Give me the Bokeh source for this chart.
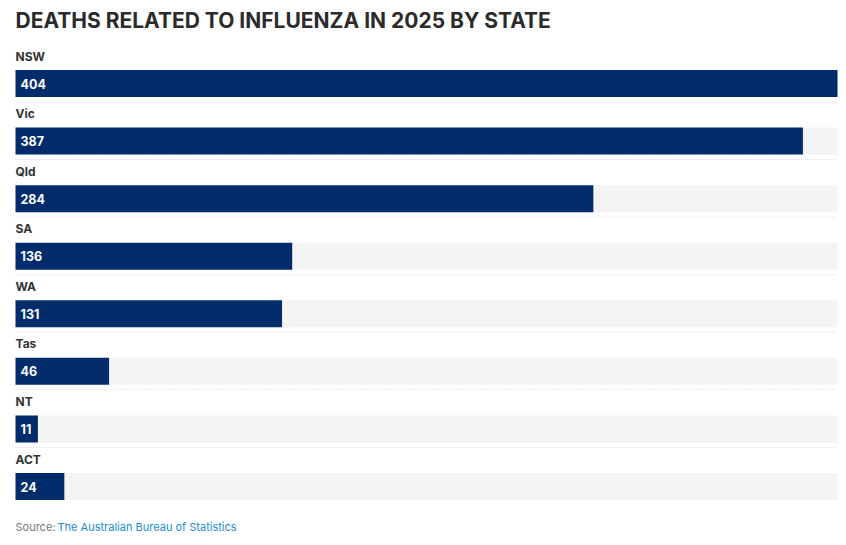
from bokeh.plotting import figure
from bokeh.models import Range1d, ColumnDataSource
from bokeh.core.properties import value
from bokeh.embed import file_html
from bokeh.resources import INLINE

# ---- data ----
states = ["NSW", "Vic", "Qld", "SA", "WA", "Tas", "NT", "ACT"]
deaths = [404, 387, 284, 136, 131, 46, 11, 24]
title_text = "DEATHS RELATED TO INFLUENZA IN 2025 BY STATE"
source_label = "Source:"
source_link = "The Australian Bureau of Statistics"

# ---- layout (page pixels) ----
W, H = 840, 540
PAGE = 0
bar_left_px, bar_right_px = 15, 837
max_val = max(deaths)
scale = (bar_right_px - bar_left_px) / max_val        # px per death
x0 = -(bar_left_px - PAGE) / scale
x1 = max_val + (PAGE + W - bar_right_px) / scale

first_bar_top = 69.5
row_step = (473 - 70) / 7
bar_h = 27

p = figure(width=W, height=H, output_backend="svg", toolbar_location=None,
           x_range=Range1d(x0, x1), y_range=Range1d(PAGE + H, PAGE),
           min_border=0, min_border_left=0, min_border_right=0,
           min_border_top=0, min_border_bottom=0)
p.axis.visible = False
p.grid.visible = False
p.outline_line_color = None
p.background_fill_color = "white"
p.border_fill_color = "white"

n = len(states)
tops = [first_bar_top + i * row_step for i in range(n)]
centers = [t + bar_h / 2 for t in tops]
label_y = [t - 14 for t in tops]
sep_y = [t + bar_h + 5 for t in tops[:-1]]

src = ColumnDataSource(dict(state=states, val=deaths, yc=centers, ly=label_y,
                            txt=[str(v) for v in deaths],
                            full=[max_val] * n,
                            half_full=[max_val / 2] * n,
                            half=[v / 2 for v in deaths]))

# background tracks
p.rect(x="half_full", y="yc", width="full", height=bar_h, source=src,
       fill_color="#f4f4f4", line_color=None)
# bars
p.rect(x="half", y="yc", width="val", height=bar_h, source=src,
       fill_color="#002c6c", line_color=None)

# separators
p.segment(x0=[0] * len(sep_y), x1=[max_val] * len(sep_y), y0=sep_y, y1=sep_y,
          line_color="#cfcfcf", line_width=1, line_dash="1 2")

# state labels
p.text(x=0, y="ly", text="state", source=src, text_font=value("Inter"),
       text_font_style="bold", text_font_size="12px", text_color="#333333",
       text_baseline="middle", text_align="left")
# value labels
p.text(x=5 / scale, y="yc", text="txt", source=src, text_font=value("Inter"),
       text_font_size="12.5px", text_color="white", text_font_style="bold",
       text_baseline="middle", text_align="left")

# title
p.text(x=[0], y=[20], text=[title_text], text_font=value("Inter"),
       text_font_style="bold", text_font_size="21px", text_color="#2b2b2b",
       text_baseline="middle", text_align="left")

# source
p.text(x=[0], y=[526], text=[source_label], text_font=value("Inter"),
       text_font_size="11px", text_color="#777777",
       text_baseline="middle", text_align="left")
p.text(x=[(57 - bar_left_px) / scale], y=[526], text=[source_link],
       text_font=value("Inter"), text_font_size="11px", text_color="#1a8fd0",
       text_baseline="middle", text_align="left")

open("out.html", "w").write(file_html(p, INLINE))
